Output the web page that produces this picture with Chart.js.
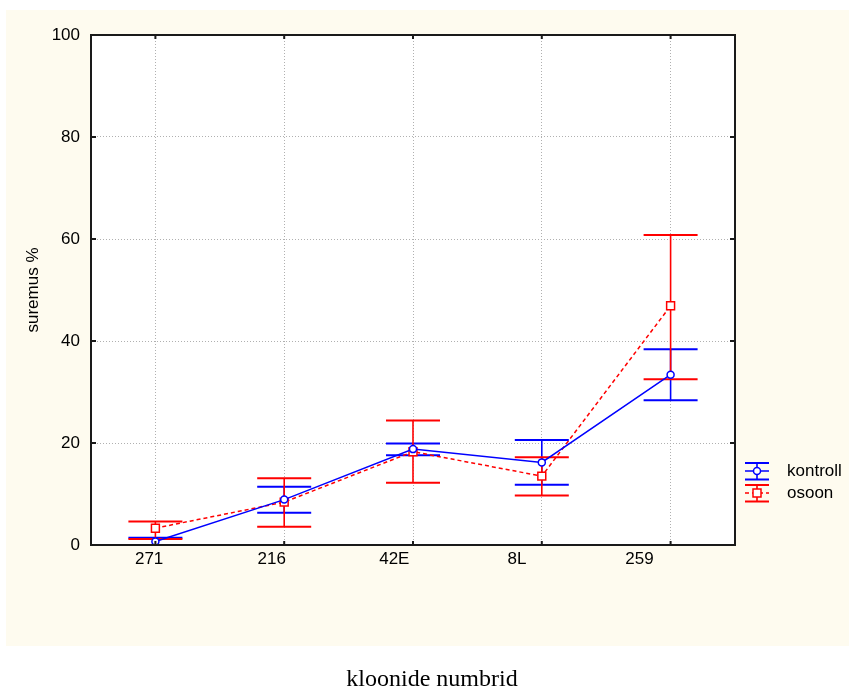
<!DOCTYPE html>
<html>
<head>
<meta charset="utf-8">
<script src="https://cdn.jsdelivr.net/npm/chart.js@4/dist/chart.umd.min.js"></script>
<style>
  html, body { margin: 0; padding: 0; background: #ffffff; }
  #wrap { position: relative; width: 853px; height: 689px; }
  #caption { position: absolute; left: 0; top: 665px; width: 864px; text-align: center;
             font: 24px 'Liberation Serif', 'Times New Roman', serif; color: #000; white-space: nowrap; }
</style>
</head>
<body>
<div id="wrap">
  <canvas id="c" width="853" height="689"></canvas>
  <div id="caption">kloonide numbrid</div>
</div>
<script>
// ---- data ----
const categories = ['271', '216', '42E', '8L', '259'];
const seriesNames = ['kontroll', 'osoon'];
const kontrollMean = [0.7, 8.9, 18.8, 16.2, 33.4];
const kontrollLow  = [0.0, 6.3, 17.6, 11.8, 28.4];
const kontrollHigh = [1.4, 11.4, 19.9, 20.6, 38.4];
const osoonMean = [3.3, 8.4, 18.3, 13.5, 46.9];
const osoonLow  = [1.2, 3.6, 12.2, 9.7, 32.5];
const osoonHigh = [4.6, 13.1, 24.4, 17.2, 60.8];
const yTicks = [0, 20, 40, 60, 80, 100];

const BLUE = '#0000ff';
const RED = '#ff0000';
const FONT = { family: "'Liberation Sans', Arial, sans-serif", size: 17 };

const errorSets = [
  { low: kontrollLow, high: kontrollHigh, color: BLUE },
  { low: osoonLow, high: osoonHigh, color: RED }
];

const bgPlugin = {
  id: 'bg',
  beforeDraw(chart) {
    const c = chart.ctx, a = chart.chartArea;
    c.save();
    c.fillStyle = '#fefbef';
    c.fillRect(6, 10, 843, 636);
    c.fillStyle = '#ffffff';
    c.fillRect(a.left, a.top, a.right - a.left, a.bottom - a.top);
    c.restore();
  }
};

const errorBarPlugin = {
  id: 'errbars',
  beforeDatasetsDraw(chart) {
    const c = chart.ctx, xs = chart.scales.x, ys = chart.scales.y;
    const half = 27;
    c.save();
    errorSets.forEach(s => {
      c.strokeStyle = s.color;
      s.low.forEach((lo, i) => {
        const x = xs.getPixelForValue(i);
        const yl = ys.getPixelForValue(lo);
        const yh = ys.getPixelForValue(s.high[i]);
        c.lineWidth = 1.6;
        c.beginPath(); c.moveTo(x, yl); c.lineTo(x, yh); c.stroke();
        c.lineWidth = 2;
        c.beginPath();
        c.moveTo(x - half, yl); c.lineTo(x + half, yl);
        c.moveTo(x - half, yh); c.lineTo(x + half, yh);
        c.stroke();
      });
    });
    c.restore();
  }
};

const framePlugin = {
  id: 'frame',
  afterDraw(chart) {
    const c = chart.ctx, a = chart.chartArea, xs = chart.scales.x, ys = chart.scales.y;
    c.save();
    c.strokeStyle = '#1a1a1a';
    c.lineWidth = 2;
    c.strokeRect(a.left, a.top, a.right - a.left, a.bottom - a.top);
    c.beginPath();
    categories.forEach((_, i) => {
      const x = xs.getPixelForValue(i);
      c.moveTo(x, a.top); c.lineTo(x, a.top + 4);
      c.moveTo(x, a.bottom); c.lineTo(x, a.bottom - 4);
    });
    yTicks.forEach(v => {
      const y = ys.getPixelForValue(v);
      c.moveTo(a.left, y); c.lineTo(a.left + 5, y);
      c.moveTo(a.right, y); c.lineTo(a.right - 5, y);
    });
    c.stroke();
    c.restore();
  }
};

const legendPlugin = {
  id: 'customLegend',
  afterDraw(chart) {
    const c = chart.ctx, a = chart.chartArea;
    const x0 = a.right + 10, x1 = a.right + 34, xc = (x0 + x1) / 2;
    const rows = [a.bottom - 74, a.bottom - 52];
    c.save();
    chart.data.datasets.forEach((ds, k) => {
      const y = rows[k];
      const col = ds.borderColor;
      c.strokeStyle = col;
      // caps
      c.lineWidth = 2;
      c.setLineDash([]);
      c.beginPath();
      c.moveTo(x0, y - 8); c.lineTo(x1, y - 8);
      c.moveTo(x0, y + 8.5); c.lineTo(x1, y + 8.5);
      c.stroke();
      // vertical
      c.lineWidth = 1.6;
      c.beginPath(); c.moveTo(xc, y - 8); c.lineTo(xc, y + 8.5); c.stroke();
      // line
      c.lineWidth = 1.5;
      c.setLineDash(ds.borderDash || []);
      c.beginPath(); c.moveTo(x0, y); c.lineTo(x1, y); c.stroke();
      c.setLineDash([]);
      // marker
      c.fillStyle = '#ffffff';
      c.lineWidth = 1.5;
      c.beginPath();
      if (ds.pointStyle === 'rect') {
        c.rect(xc - 4, y - 4, 8, 8);
      } else {
        c.arc(xc, y, 3.5, 0, Math.PI * 2);
      }
      c.fill(); c.stroke();
      // text
      c.fillStyle = '#000';
      c.font = `${FONT.size}px ${FONT.family}`;
      c.textBaseline = 'middle';
      c.textAlign = 'left';
      c.fillText(ds.label, a.right + 52, y);
    });
    c.restore();
  }
};

const setCatTicks = s => { s.ticks = categories.map((_, i) => ({ value: i })); };

new Chart(document.getElementById('c'), {
  type: 'line',
  data: {
    datasets: [
      {
        label: seriesNames[0],
        data: kontrollMean.map((v, i) => ({ x: i, y: v })),
        borderColor: BLUE, borderWidth: 1.5,
        pointStyle: 'circle', pointRadius: 3.5,
        pointBackgroundColor: '#ffffff', pointBorderColor: BLUE, pointBorderWidth: 1.5,
        tension: 0, fill: false
      },
      {
        label: seriesNames[1],
        data: osoonMean.map((v, i) => ({ x: i, y: v })),
        borderColor: RED, borderWidth: 1.5, borderDash: [4, 3],
        pointStyle: 'rect', pointRadius: 5.6,
        pointBackgroundColor: '#ffffff', pointBorderColor: RED, pointBorderWidth: 1.5,
        tension: 0, fill: false
      }
    ]
  },
  options: {
    responsive: false,
    animation: false,
    layout: { padding: { top: 35, right: 118, left: 0, bottom: 0 } },
    plugins: { legend: { display: false }, tooltip: { enabled: false } },
    scales: {
      x: {
        type: 'linear', min: -0.5, max: 4.5,
        afterBuildTicks: setCatTicks,
        ticks: { display: false },
        grid: { color: '#b0b0b0', lineWidth: 1, drawTicks: false },
        border: { display: false, dash: [1, 2] },
        afterFit: s => { s.height = 0; }
      },
      x2: {
        type: 'linear', position: 'bottom', min: -0.474, max: 4.779,
        afterBuildTicks: setCatTicks,
        ticks: {
          callback: v => categories[v],
          font: FONT, color: '#000', padding: 4, maxRotation: 0, autoSkip: false
        },
        grid: { display: false, drawTicks: false },
        border: { display: false },
        afterFit: s => { s.height = 144; }
      },
      y: {
        min: 0, max: 100,
        afterBuildTicks: s => { s.ticks = yTicks.map(v => ({ value: v })); },
        ticks: { font: FONT, color: '#000', padding: 11 },
        grid: { color: '#b0b0b0', lineWidth: 1, drawTicks: false },
        border: { display: false, dash: [1, 2] },
        title: { display: true, text: 'suremus %', font: FONT, color: '#000', padding: { top: 23, bottom: 0 } },
        afterFit: s => { s.width = 91; }
      }
    }
  },
  plugins: [bgPlugin, errorBarPlugin, framePlugin, legendPlugin]
});
</script>
</body>
</html>
